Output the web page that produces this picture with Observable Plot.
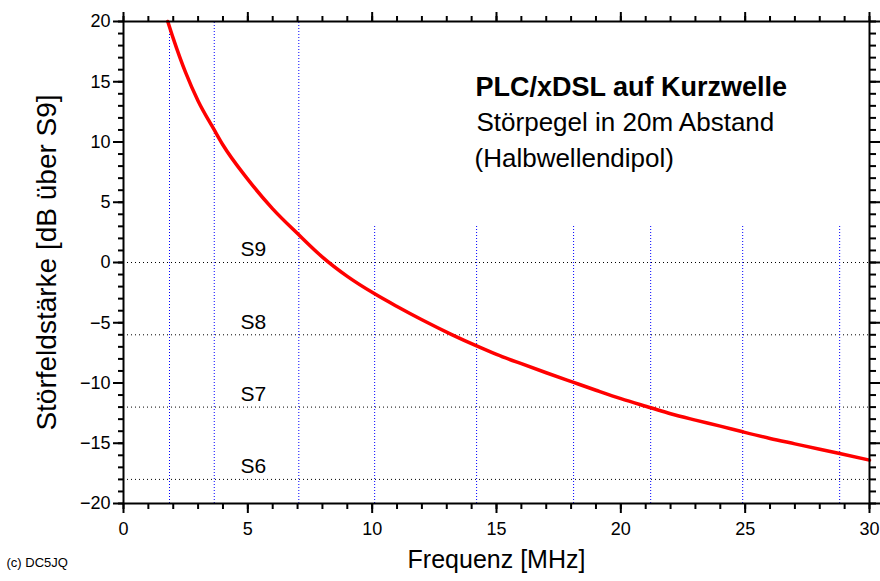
<!DOCTYPE html>
<html>
<head>
<meta charset="utf-8">
<script src="https://cdn.jsdelivr.net/npm/d3@7"></script>
<script src="https://cdn.jsdelivr.net/npm/@observablehq/plot@0.6"></script>
<style>
  html, body { margin: 0; padding: 0; background: #fff; }
  #chart svg { display: block; font-family: "Liberation Sans", Arial, sans-serif; }
</style>
</head>
<body>
<div id="chart"></div>
<script>
// Curve: frequency (MHz) -> field strength (dB over S9)
const freq = [1.78, 2, 2.5, 3, 3.65, 4, 5, 6, 7.05, 8, 9, 10.1, 11, 12, 13.2, 14.2, 15, 16, 17, 18.1, 19, 20, 21.2, 22, 23, 24, 24.9, 26, 27, 28, 28.8, 30];
const level = [20.0, 18.6, 15.75, 13.4, 11.0, 9.75, 6.9, 4.45, 2.3, 0.45, -1.15, -2.6, -3.65, -4.75, -5.98, -6.92, -7.62, -8.4, -9.15, -9.95, -10.6, -11.3, -12.05, -12.55, -13.08, -13.58, -14.05, -14.6, -15.05, -15.5, -15.85, -16.4];

// Amateur band markers (blue dotted lines) and their upper ends
const bands = [1.85, 3.65, 7.05, 10.1, 14.2, 18.1, 21.2, 24.9, 28.8];
const bandTop = [20, 20, 20, 3, 3, 3, 3, 3, 3];

// S-meter levels
const sLevels = [0, -6, -12, -18];
const sLabels = ["S9", "S8", "S7", "S6"];

// Ticks
const xMajor = [0, 5, 10, 15, 20, 25, 30];
const xMinor = d3.range(0, 31, 1);
const yMajor = [-20, -15, -10, -5, 0, 5, 10, 15, 20];
const yMinor = d3.range(-20, 21, 1);

const titleLines = ["PLC/xDSL auf Kurzwelle", "Störpegel in 20m Abstand", "(Halbwellendipol)"];
const xLabel = "Frequenz [MHz]";
const yLabel = "Störfeldstärke [dB über S9]";
const credit = "(c) DC5JQ";

const curve = freq.map((f, i) => ({f, v: level[i]}));
const bandData = bands.map((b, i) => ({b, top: bandTop[i]}));
const sData = sLevels.map((s, i) => ({s, label: sLabels[i]}));

const font = "Liberation Sans, Arial, sans-serif";
const blank = () => "";

const chart = Plot.plot({
  width: 880,
  height: 581,
  marginLeft: 123,
  marginRight: 11,
  marginTop: 21,
  marginBottom: 78,
  style: {fontFamily: font, color: "#000", background: "#fff"},
  x: {domain: [0, 30]},
  y: {domain: [-20, 20]},
  marks: [
    // grid lines
    Plot.ruleY(sData, {y: "s", stroke: "#000", strokeWidth: 1, strokeDasharray: "1,3"}),
    Plot.ruleX(bandData, {x: "b", y1: -20, y2: "top", stroke: "#0000ff", strokeWidth: 1, strokeDasharray: "1,2"}),
    // S labels
    Plot.text(sData, {y: "s", text: "label", frameAnchor: "left", dx: 117, dy: -13, textAnchor: "start", fontSize: 21, fill: "#000"}),
    // curve
    Plot.line(curve, {x: "f", y: "v", stroke: "#ff0000", strokeWidth: 3.5, curve: "monotone-x"}),
    // frame
    Plot.frame({stroke: "#000", strokeWidth: 2}),
    // axes bottom
    Plot.axisX({anchor: "bottom", ticks: xMinor, tickSize: 6, tickFormat: blank, label: null, strokeWidth: 2}),
    Plot.axisX({anchor: "bottom", ticks: xMajor, tickSize: 10, tickPadding: 9, fontSize: 18, label: null, strokeWidth: 2}),
    // axes top
    Plot.axisX({anchor: "top", ticks: xMinor, tickSize: 6, tickFormat: blank, label: null, strokeWidth: 2}),
    Plot.axisX({anchor: "top", ticks: xMajor, tickSize: 10, tickFormat: blank, label: null, strokeWidth: 2}),
    // axes left
    Plot.axisY({anchor: "left", ticks: yMinor, tickSize: 5, tickFormat: blank, label: null, strokeWidth: 2}),
    Plot.axisY({anchor: "left", ticks: yMajor, tickSize: 10, tickPadding: 3, fontSize: 18, label: null, strokeWidth: 2}),
    // axes right
    Plot.axisY({anchor: "right", ticks: yMinor, tickSize: 6, tickFormat: blank, label: null, strokeWidth: 2}),
    Plot.axisY({anchor: "right", ticks: yMajor, tickSize: 10, tickFormat: blank, label: null, strokeWidth: 2}),
    // axis labels
    Plot.text([xLabel], {frameAnchor: "bottom", dy: 64, fontSize: 25, fill: "#000"}),
    Plot.text([yLabel], {frameAnchor: "left", dx: -76, rotate: -90, textAnchor: "middle", fontSize: 28, fill: "#000"}),
    // title block
    Plot.text([titleLines[0]], {frameAnchor: "top-left", dx: 352, dy: 55, textAnchor: "start", fontSize: 27, fontWeight: "bold", fill: "#000"}),
    Plot.text([titleLines[1]], {frameAnchor: "top-left", dx: 353, dy: 91, textAnchor: "start", fontSize: 26, fill: "#000"}),
    Plot.text([titleLines[2]], {frameAnchor: "top-left", dx: 351, dy: 127, textAnchor: "start", fontSize: 26, fill: "#000"}),
    // credit
    Plot.text([credit], {frameAnchor: "bottom-left", dx: -117, dy: 63, textAnchor: "start", fontSize: 13, fill: "#000"})
  ]
});
document.getElementById("chart").appendChild(chart);
</script>
</body>
</html>
